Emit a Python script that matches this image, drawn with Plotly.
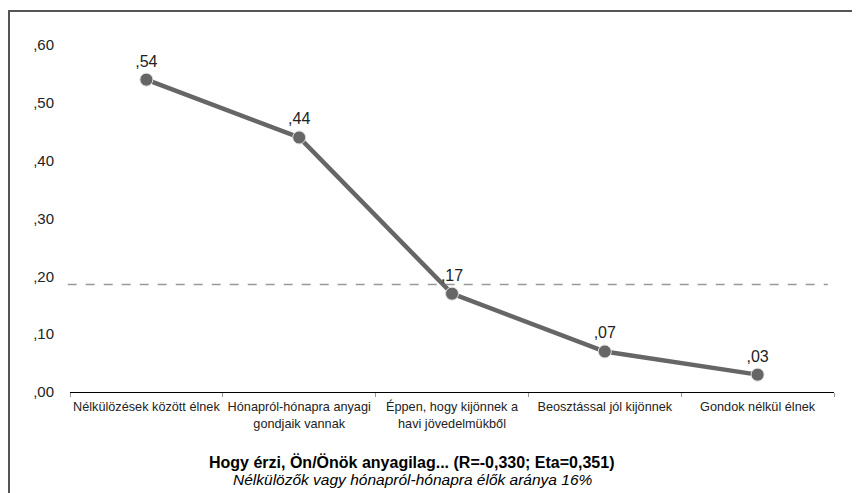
import plotly.graph_objects as go

categories = [
    "Nélkülözések között élnek",
    "Hónapról-hónapra anyagi<br>gondjaik vannak",
    "Éppen, hogy kijönnek a<br>havi jövedelmükből",
    "Beosztással jól kijönnek",
    "Gondok nélkül élnek",
]
values = [0.54, 0.44, 0.17, 0.07, 0.03]
value_labels = [",54", ",44", ",17", ",07", ",03"]
reference_value = 0.186
ytick_vals = [0, 0.1, 0.2, 0.3, 0.4, 0.5, 0.6]
ytick_text = [",00", ",10", ",20", ",30", ",40", ",50", ",60"]
title_main = "Hogy érzi, Ön/Önök anyagilag... (R=-0,330; Eta=0,351)"
title_sub = "Nélkülözők vagy hónapról-hónapra élők aránya 16%"

# page body has an 8px margin, so the figure is laid out in figure coordinates
W, H = 852, 485
L, R, T, B = 62, 26, 8, 101
pw = W - L - R
ph = H - T - B
FONT = "Liberation Sans, Arial"

fig = go.Figure()
fig.add_trace(go.Scatter(
    x=categories, y=values, mode="lines+markers+text",
    text=value_labels, textposition="top center",
    textfont=dict(size=16, color="#222222", family=FONT),
    line=dict(color="#666666", width=4.5),
    marker=dict(size=13, color="#666666", line=dict(color="#e0e0e0", width=1)),
    cliponaxis=False, showlegend=False,
))

fig.add_shape(type="line", xref="paper", yref="y", x0=-0.003, x1=0.992,
              y0=reference_value, y1=reference_value,
              line=dict(color="#999999", width=1.5, dash="dash"))

# outer frame
fig.add_shape(type="rect", xref="paper", yref="paper",
              x0=(1 - L) / pw, x1=1.5, y0=-0.6, y1=(H - B - 3) / ph,
              line=dict(color="#555555", width=2), fillcolor="rgba(0,0,0,0)", layer="below")

fig.add_annotation(text="<b>" + title_main + "</b>", xref="paper", yref="paper",
                   x=(403 - L) / pw, y=(H - B - 454) / ph, xanchor="center", yanchor="middle",
                   showarrow=False, font=dict(size=16, color="#000000", family=FONT))
fig.add_annotation(text="<i>" + title_sub + "</i>", xref="paper", yref="paper",
                   x=(405 - L) / pw, y=(H - B - 471) / ph, xanchor="center", yanchor="middle",
                   showarrow=False, font=dict(size=15.5, color="#000000", family=FONT))

fig.update_layout(
    width=W, height=H,
    margin=dict(l=L, r=R, t=T, b=B, autoexpand=False),
    paper_bgcolor="white", plot_bgcolor="white",
    font=dict(family=FONT, color="#222222", size=12),
    xaxis=dict(type="category", range=[-0.5, 4.5], showgrid=False,
               showline=True, linecolor="#000000", linewidth=1,
               ticks="outside", tickson="boundaries", ticklen=4, tickcolor="#999999",
               ticklabelstandoff=3, tickangle=0, automargin=False,
               tickfont=dict(size=12.7, color="#222222"), zeroline=False),
    yaxis=dict(range=[0, 0.65], showgrid=False, zeroline=False, showline=False,
               tickvals=ytick_vals, ticktext=ytick_text, ticks="", automargin=False,
               ticklabelstandoff=15, tickfont=dict(size=15, color="#222222")),
)

fig.write_html("out.html")
